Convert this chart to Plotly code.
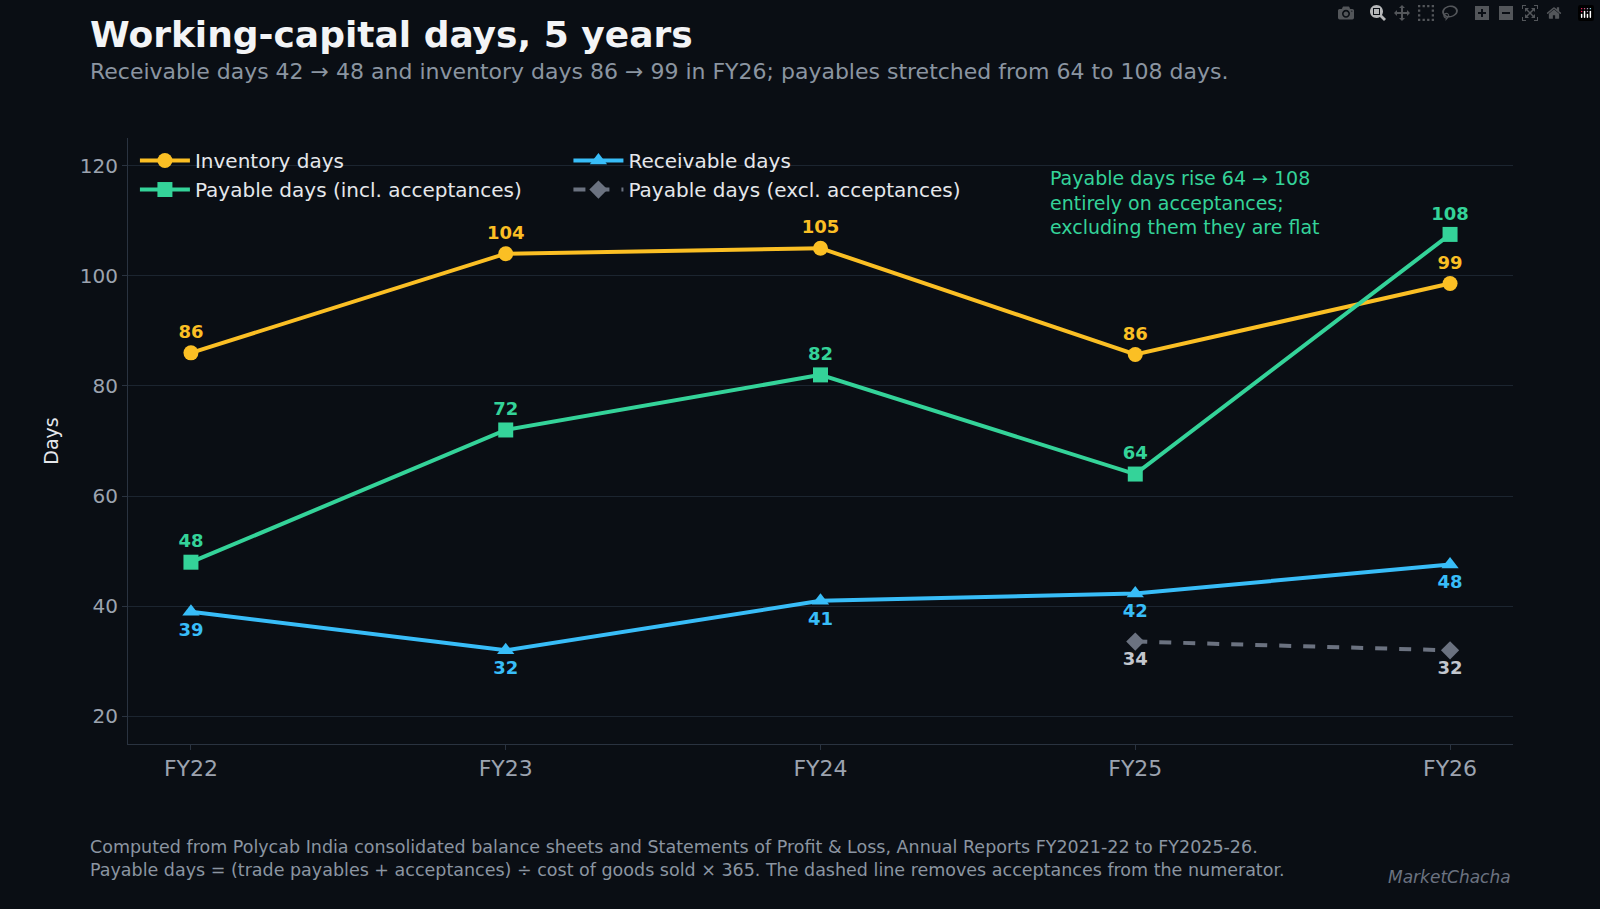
import plotly.graph_objects as go

years = ["FY22", "FY23", "FY24", "FY25", "FY26"]
inventory = [86.0, 104.0, 105.0, 85.7, 98.6]
inventory_lbl = ["86", "104", "105", "86", "99"]
payable_incl = [48.0, 72.0, 82.0, 64.0, 107.5]
payable_incl_lbl = ["48", "72", "82", "64", "108"]
receivable = [39.0, 32.0, 41.0, 42.3, 47.6]
receivable_lbl = ["39", "32", "41", "42", "48"]
payable_excl = [None, None, None, 33.6, 32.0]
payable_excl_lbl = ["", "", "", "34", "32"]

BG = "#0a0e14"
FONT = "DejaVu Sans"

def series(y, lbl, name, color, symbol, pos, legend, dash="solid", txtcol=None, size=15):
    return go.Scatter(
        x=list(range(len(years))), y=y, name=name, legend=legend,
        mode="lines+markers+text", text=lbl, textposition=pos,
        textfont=dict(color=txtcol or color, size=18, family=FONT, weight="bold"),
        line=dict(color=color, width=4, dash=dash),
        marker=dict(symbol=symbol, size=size, color=color),
        cliponaxis=False,
    )

fig = go.Figure([
    series(inventory, inventory_lbl, "Inventory days", "#fbbf24", "circle", "top center", "legend"),
    series(payable_incl, payable_incl_lbl, "Payable days (incl. acceptances)", "#34d399", "square", "top center", "legend"),
    series(receivable, receivable_lbl, "Receivable days", "#38bdf8", "triangle-up", "bottom center", "legend2"),
    series(payable_excl, payable_excl_lbl, "Payable days (excl. acceptances)", "#6b7280", "diamond", "bottom center",
           "legend2", dash="dash", txtcol="#c3c7ce", size=14),
])

leg = dict(bgcolor="rgba(0,0,0,0)", font=dict(color="#e5e7eb", size=20, family=FONT),
           yanchor="top", y=0.995, tracegroupgap=0, itemwidth=50)
fig.update_layout(
    width=1600, height=909,
    paper_bgcolor=BG, plot_bgcolor=BG,
    font=dict(family=FONT, color="#9ca3af"),
    margin=dict(l=128, r=87, t=138, b=165),
    legend=dict(leg, x=0.005),
    legend2=dict(leg, x=0.318),
    xaxis=dict(range=[-0.2, 4.2], tickvals=list(range(len(years))), ticktext=years,
               tickfont=dict(size=22, color="#9ca3af"), showgrid=False, zeroline=False,
               showline=True, linecolor="#2a3340", ticks="outside", ticklen=5, tickcolor="#2a3340"),
    yaxis=dict(range=[15, 125], tickvals=[20, 40, 60, 80, 100, 120], tickfont=dict(size=20, color="#9ca3af"),
               gridcolor="#1c2530", zeroline=False, showline=True, linecolor="#2a3340",
               ticks="outside", ticklen=5, tickcolor="#2a3340",
               title=dict(text="Days", font=dict(size=19, color="#e5e7eb"), standoff=16)),
    annotations=[
        dict(text="<b>Working-capital days, 5 years</b>", x=-0.029, y=1.17, xref="paper", yref="paper",
             showarrow=False, font=dict(size=36, color="#f3f4f6"), xanchor="left", yanchor="middle"),
        dict(text="Receivable days 42 → 48 and inventory days 86 → 99 in FY26; payables stretched from 64 to 108 days.",
             xref="paper", yref="paper", x=-0.029, y=1.11, xanchor="left", yanchor="middle",
             showarrow=False, font=dict(size=22, color="#8b95a1")),
        dict(text="Payable days rise 64 → 108<br>entirely on acceptances;<br>excluding them they are flat",
             xref="paper", yref="paper", x=0.664, y=0.955, xanchor="left", yanchor="top", align="left",
             showarrow=False, font=dict(size=19, color="#34d399")),
        dict(text="Computed from Polycab India consolidated balance sheets and Statements of Profit &amp; Loss, Annual Reports FY2021-22 to FY2025-26.<br>"
                  "Payable days = (trade payables + acceptances) ÷ cost of goods sold × 365. The dashed line removes acceptances from the numerator.",
             xref="paper", yref="paper", x=-0.029, y=-0.15, xanchor="left", yanchor="top", align="left",
             showarrow=False, font=dict(size=17.5, color="#8b95a1")),
        dict(text="<i>MarketChacha</i>", xref="paper", yref="paper", x=1.0, y=-0.2, xanchor="right",
             yanchor="top", showarrow=False, font=dict(size=17, color="#6b7280")),
    ],
)

fig.write_html("out.html", post_script="document.body.style.margin='0';document.body.style.background='#0a0e14';")
